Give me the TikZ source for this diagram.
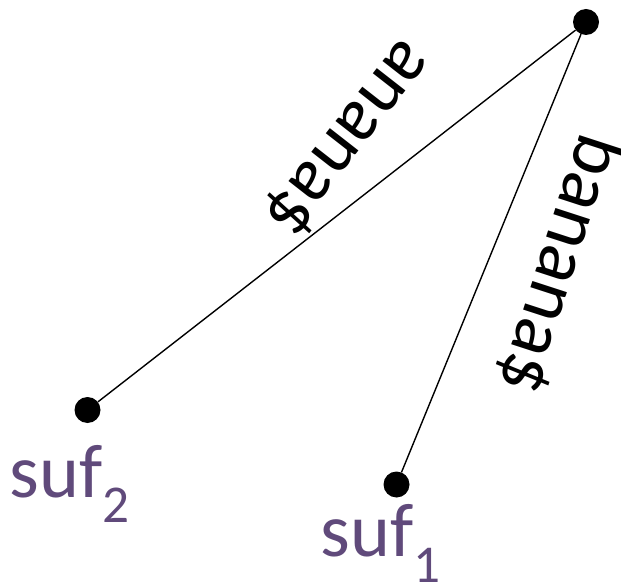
\documentclass[tikz,border=0pt]{standalone}
\usepackage{fontspec}
\setmainfont{Carlito}
\usetikzlibrary{positioning}
\definecolor{sufpurple}{HTML}{604A7B}

\begin{document}
\begin{tikzpicture}[
        x=1pt, y=1pt,
        dot/.style={circle, fill=black, inner sep=0pt, minimum size=26pt},
        edge/.style={line width=1.4pt},
        word/.style={font=\fontsize{76}{76}\selectfont, inner sep=0pt},
        suf/.style={font=\fontsize{76}{76}\selectfont, text=sufpurple, inner sep=0pt, anchor=base west}
    ]
    \useasboundingbox (0,0) rectangle (621,587);
    \node (root) [dot] at (586,565) {};
    \node (leafb) [dot] at (87.5,177) {};
    \node (leafa) [dot] at (396.5,102.5) {};
    \node (sufb) [suf, xshift=-78pt, yshift=-87pt] at (leafb.center) {suf\textsubscript{2}};
    \node (sufa) [suf, xshift=-76pt, yshift=-72pt] at (leafa.center) {suf\textsubscript{1}};

    \draw [edge] (root) -- (leafb);
    \draw [edge] (root) -- (leafa);
    \node (wordb) [word, rotate=232] at (348,449) {anana\$};
    \node (worda) [word, rotate=252] at (561,322) {banana\$};
\end{tikzpicture}
\end{document}
